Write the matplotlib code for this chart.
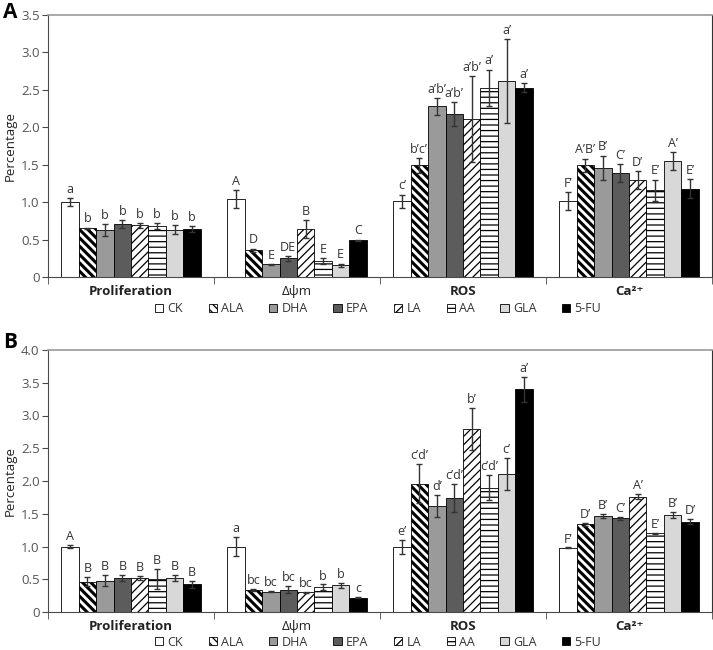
import numpy as np
import matplotlib
matplotlib.use("Agg")
import matplotlib.pyplot as plt
from matplotlib.patches import Patch

plt.rcParams['font.family'] = ['Open Sans', 'DejaVu Sans']
plt.rcParams['hatch.linewidth'] = 0.9

categorias = ['Proliferation', 'Δψm', 'ROS', 'Ca²⁺']
grupos = ['CK', 'ALA', 'DHA', 'EPA', 'LA', 'AA', 'GLA', '5-FU']

# painel A
a_prolif = [1.00, 0.65, 0.63, 0.71, 0.69, 0.68, 0.63, 0.64]
a_prolif_err = [0.05, 0.01, 0.08, 0.05, 0.03, 0.04, 0.06, 0.04]
a_prolif_lbl = ['a', 'b', 'b', 'b', 'b', 'b', 'b', 'b']
a_dpsi = [1.04, 0.36, 0.17, 0.25, 0.64, 0.21, 0.16, 0.49]
a_dpsi_err = [0.12, 0.02, 0.005, 0.03, 0.12, 0.04, 0.02, 0.01]
a_dpsi_lbl = ['A', 'D', 'E', 'DE', 'B', 'E', 'E', 'C']
a_ros = [1.01, 1.49, 2.28, 2.18, 2.11, 2.53, 2.62, 2.53]
a_ros_err = [0.09, 0.10, 0.11, 0.16, 0.57, 0.24, 0.56, 0.06]
a_ros_lbl = ['c’', 'b’c’', 'a’b’', 'a’b’', 'a’b’', 'a’', 'a’', 'a’']
a_ca = [1.01, 1.49, 1.46, 1.39, 1.29, 1.16, 1.55, 1.18]
a_ca_err = [0.12, 0.09, 0.16, 0.12, 0.12, 0.14, 0.12, 0.13]
a_ca_lbl = ['F’', 'A’B’', 'B’', 'C’', 'D’', 'E’', 'A’', 'E’']

# painel B
b_prolif = [1.00, 0.46, 0.48, 0.52, 0.52, 0.50, 0.52, 0.42]
b_prolif_err = [0.03, 0.07, 0.09, 0.05, 0.03, 0.15, 0.04, 0.06]
b_prolif_lbl = ['A', 'B', 'B', 'B', 'B', 'B', 'B', 'B']
b_dpsi = [1.00, 0.335, 0.31, 0.34, 0.30, 0.38, 0.41, 0.22]
b_dpsi_err = [0.14, 0.02, 0.01, 0.05, 0.01, 0.04, 0.04, 0.005]
b_dpsi_lbl = ['a', 'bc', 'bc', 'bc', 'bc', 'b', 'b', 'c']
b_ros = [0.99, 1.96, 1.62, 1.74, 2.80, 1.90, 2.11, 3.40]
b_ros_err = [0.11, 0.30, 0.17, 0.21, 0.32, 0.19, 0.24, 0.19]
b_ros_lbl = ['e’', 'c’d’', 'd’', 'c’d’', 'b’', 'c’d’', 'c’', 'a’']
b_ca = [0.98, 1.34, 1.47, 1.43, 1.76, 1.20, 1.48, 1.38]
b_ca_err = [0.005, 0.02, 0.03, 0.02, 0.04, 0.005, 0.04, 0.04]
b_ca_lbl = ['F’', 'D’', 'B’', 'C’', 'A’', 'E’', 'B’', 'D’']

cores = ['white', 'white', '#9a9a9a', '#5c5c5c', 'white', 'white', '#d8d8d8', 'black']
hachuras = [None, '\\\\\\\\', None, None, '////', '---', None, None]
larg_hachura = [0.9, 2.2, 0.9, 0.9, 0.9, 0.9, 0.9, 0.9]

cinza = '#4a4a4a'


def desenhar_painel(ax, valores, erros, rotulos, ymax):
    valores = np.array(valores)   # (categoria, grupo)
    erros = np.array(erros)
    n = len(grupos)
    w = 1 / 9.5
    x = np.arange(len(categorias))
    for i in range(n):
        pos = x + (i - (n - 1) / 2) * w
        barras = ax.bar(pos, valores[:, i], width=w, color=cores[i], hatch=hachuras[i],
                        edgecolor='black', linewidth=0.6, zorder=2)
        for b in barras:
            if hasattr(b, 'set_hatch_linewidth'):
                b.set_hatch_linewidth(larg_hachura[i])
        ax.errorbar(pos, valores[:, i], yerr=erros[:, i], fmt='none',
                    ecolor='#333333', elinewidth=1, capsize=2.5, capthick=1, zorder=3)
        for j in range(len(categorias)):
            ax.text(pos[j], valores[j, i] + erros[j, i] + 0.03, rotulos[j][i],
                    ha='center', va='bottom', fontsize=9, color='#333333')

    ax.set_xlim(-0.5, len(categorias) - 0.5)
    ax.set_ylim(0, ymax)
    yt = np.arange(0, ymax + 0.01, 0.5)
    ax.set_yticks(yt)
    ax.set_yticklabels(['0'] + [f'{v:.1f}' for v in yt[1:]])
    ax.set_xticks(x)
    ax.set_xticklabels(categorias)
    for k, t in enumerate(ax.get_xticklabels()):
        t.set_fontweight('normal' if k == 1 else 'bold')
    ax.set_xticks(np.arange(-0.5, len(categorias)), minor=True)
    ax.tick_params(axis='x', which='major', length=0, pad=6, labelsize=9.5, labelcolor='#222222')
    ax.tick_params(axis='x', which='minor', length=5, direction='out', color=cinza)
    ax.tick_params(axis='y', length=4, direction='out', pad=2, labelsize=9.5,
                   labelcolor='#555555', color=cinza)
    ax.set_ylabel('Percentage', fontsize=9.5, color='#222222')
    ax.yaxis.set_label_coords(-31 / 664, 0.5)

    ax.spines['top'].set_color('#999999')
    ax.spines['top'].set_linewidth(1.2)
    ax.spines['right'].set_color('#333333')
    ax.spines['left'].set_color(cinza)
    ax.spines['bottom'].set_color(cinza)


fig = plt.figure(figsize=(7.13, 6.5), dpi=100)

ax_a = fig.add_axes([48 / 713, 1 - 277 / 650, 664 / 713, 262 / 650])
desenhar_painel(ax_a,
                [a_prolif, a_dpsi, a_ros, a_ca],
                [a_prolif_err, a_dpsi_err, a_ros_err, a_ca_err],
                [a_prolif_lbl, a_dpsi_lbl, a_ros_lbl, a_ca_lbl], 3.5)

ax_b = fig.add_axes([48 / 713, 1 - 612 / 650, 664 / 713, 262 / 650])
desenhar_painel(ax_b,
                [b_prolif, b_dpsi, b_ros, b_ca],
                [b_prolif_err, b_dpsi_err, b_ros_err, b_ca_err],
                [b_prolif_lbl, b_dpsi_lbl, b_ros_lbl, b_ca_lbl], 4.0)

handles = []
for i in range(len(grupos)):
    p = Patch(facecolor=cores[i], hatch=hachuras[i], edgecolor='black', linewidth=0.6)
    if hasattr(p, 'set_hatch_linewidth'):
        p.set_hatch_linewidth(larg_hachura[i])
    handles.append(p)
for ypix in (309, 642):
    fig.legend(handles, grupos, loc='center', bbox_to_anchor=(378 / 713, 1 - ypix / 650),
               ncol=8, frameon=False, fontsize=9, handlelength=0.65, handleheight=0.65,
               handletextpad=0.35, columnspacing=2.05, labelcolor='#333333',
               borderpad=0.1)

fig.text(3 / 713, 1 - 12 / 650, 'A', fontsize=15, fontweight='bold', va='center')
fig.text(3 / 713, 1 - 342 / 650, 'B', fontsize=15, fontweight='bold', va='center')

fig.savefig('out.png', dpi=100)
plt.close(fig)
